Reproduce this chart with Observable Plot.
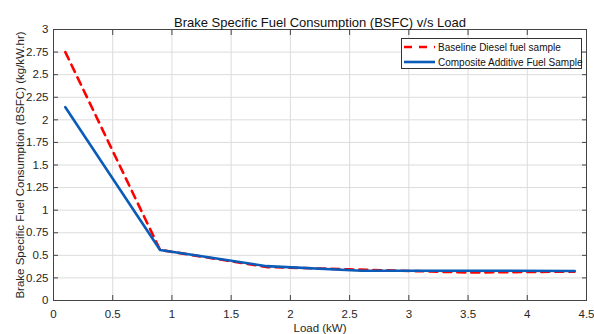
<!DOCTYPE html>
<html><head><meta charset="utf-8">
<script src="https://cdn.jsdelivr.net/npm/d3@7"></script>
<script src="https://cdn.jsdelivr.net/npm/@observablehq/plot@0.6"></script>
<style>
body{margin:0;background:#fff;font-family:"Liberation Sans",Arial,sans-serif;}
#wrap{position:relative;width:594px;height:334px;}
#legend{position:absolute;left:401px;top:38px;width:179px;height:29px;border:1px solid #333;background:#fff;font-size:10px;color:#111;white-space:nowrap;}
.row{position:absolute;left:2px;height:14px;display:flex;align-items:center;white-space:nowrap;}
.row svg{margin-right:3px;flex:none;}
</style></head>
<body><div id="wrap"></div>
<script>
const title = "Brake Specific Fuel Consumption (BSFC) v/s Load";
const xLabel = "Load (kW)";
const yLabel = "Brake Specific Fuel Consumption (BSFC) (kg/kW.hr)";
const seriesNames = ["Baseline Diesel fuel sample", "Composite Additive Fuel Sample"];
const seriesColors = ["#ff0000", "#0a5cb8"];
const baselineLoad = [0.1, 0.9, 1.8, 2.5, 3.5, 4.4];
const baselineBSFC = [2.75, 0.56, 0.37, 0.345, 0.31, 0.32];
const compositeLoad = [0.1, 0.9, 1.8, 2.6, 3.5, 4.4];
const compositeBSFC = [2.14, 0.56, 0.38, 0.33, 0.33, 0.327];
const xTicks = [0, 0.5, 1, 1.5, 2, 2.5, 3, 3.5, 4, 4.5];
const yTicks = [0, 0.25, 0.5, 0.75, 1, 1.25, 1.5, 1.75, 2, 2.25, 2.5, 2.75, 3];

const baseline = baselineLoad.map((x, i) => ({x, y: baselineBSFC[i]}));
const composite = compositeLoad.map((x, i) => ({x, y: compositeBSFC[i]}));

const fmt = d => String(d);
const chart = Plot.plot({
  width: 594, height: 334,
  marginLeft: 53, marginRight: 8, marginTop: 29, marginBottom: 34,
  style: {fontFamily: "'Liberation Sans', Arial, sans-serif", fontSize: "11px", color: "#262626", background: "#fff"},
  x: {domain: [0, 4.5]},
  y: {domain: [0, 3]},
  marks: [
    Plot.gridX(xTicks, {stroke: "#dcdcdc", strokeOpacity: 1}),
    Plot.gridY(yTicks, {stroke: "#dcdcdc", strokeOpacity: 1}),
    Plot.line(baseline, {x: "x", y: "y", stroke: seriesColors[0], strokeWidth: 2.6, strokeDasharray: "8,6"}),
    Plot.line(composite, {x: "x", y: "y", stroke: seriesColors[1], strokeWidth: 2.6}),
    Plot.frame({stroke: "#444", strokeWidth: 1}),
    Plot.axisX(xTicks, {anchor: "bottom", tickSize: -5, tickPadding: 14, tickFormat: fmt, stroke: "#444",
      label: xLabel, labelAnchor: "center", labelArrow: "none", labelOffset: 31, fontSize: 11.5}),
    Plot.axisX(xTicks, {anchor: "top", tickSize: -5, tickFormat: () => "", stroke: "#444", label: null}),
    Plot.axisY(yTicks, {anchor: "left", tickSize: -5, tickPadding: 10, tickFormat: fmt, stroke: "#444",
      label: yLabel, labelAnchor: "center", labelArrow: "none", labelOffset: 38, fontSize: 11.5}),
    Plot.axisY(yTicks, {anchor: "right", tickSize: -5, tickFormat: () => "", stroke: "#444", label: null}),
    Plot.text([title], {frameAnchor: "top", dy: -12, fontSize: 13, fill: "#111"})
  ]
});
const wrap = document.getElementById("wrap");
wrap.appendChild(chart);

const legend = document.createElement("div");
legend.id = "legend";
seriesNames.forEach((name, i) => {
  const row = document.createElement("div");
  row.className = "row";
  row.style.top = (i === 0 ? 1 : 16) + "px";
  const dash = i === 0 ? 'stroke-dasharray="8,7"' : '';
  row.innerHTML = `<svg width="31" height="6"><line x1="0" y1="3" x2="31" y2="3" stroke="${seriesColors[i]}" stroke-width="2.6" ${dash}/></svg><span>${name}</span>`;
  legend.appendChild(row);
});
wrap.appendChild(legend);
</script></body></html>
